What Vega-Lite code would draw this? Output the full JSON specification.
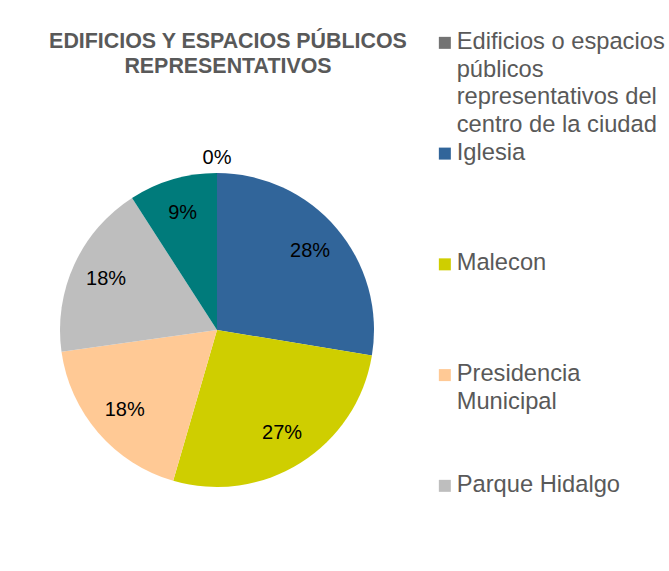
{
  "$schema": "https://vega.github.io/schema/vega-lite/v6.json",
  "width": 426,
  "height": 460,
  "autosize": {"type": "none"},
  "padding": {"left": 4, "top": 100, "right": 239, "bottom": 11},
  "background": "white",
  "title": {
    "text": ["EDIFICIOS Y ESPACIOS PÚBLICOS", "REPRESENTATIVOS"],
    "anchor": "middle",
    "dx": 11,
    "offset": -46,
    "fontSize": 21.4,
    "lineHeight": 25,
    "fontWeight": "bold",
    "color": "#595959",
    "font": "Liberation Sans"
  },
  "data": {
    "values": [
      {"lugar": "Edificios o espacios públicos representativos del centro de la ciudad", "pct": 0.0, "orden": 1},
      {"lugar": "Iglesia", "pct": 0.276, "orden": 2},
      {"lugar": "Malecon", "pct": 0.269, "orden": 3},
      {"lugar": "Presidencia Municipal", "pct": 0.183, "orden": 4},
      {"lugar": "Parque Hidalgo", "pct": 0.181, "orden": 5},
      {"lugar": "Otros", "pct": 0.091, "orden": 6}
    ]
  },
  "encoding": {
    "theta": {"field": "pct", "type": "quantitative", "stack": true},
    "order": {"field": "orden", "type": "quantitative"}
  },
  "layer": [
    {
      "mark": {"type": "arc", "outerRadius": 157},
      "encoding": {
        "color": {
          "field": "lugar",
          "type": "nominal",
          "scale": {
            "domain": ["Edificios o espacios públicos representativos del centro de la ciudad", "Iglesia", "Malecon", "Presidencia Municipal", "Parque Hidalgo", "Otros"],
            "range": ["#737373", "#31659A", "#CFCE00", "#FFC995", "#BEBEBE", "#007B7B"]
          },
          "legend": {
            "title": null,
            "orient": "none",
            "legendX": 429,
            "legendY": -69,
            "values": ["Edificios o espacios públicos representativos del centro de la ciudad", "Iglesia", "Malecon", "Presidencia Municipal", "Parque Hidalgo"],
            "symbolType": "square",
            "symbolSize": 144,
            "symbolStrokeWidth": 0,
            "symbolOpacity": 1,
            "labelFontSize": 23.7,
            "labelColor": "#595959",
            "labelFont": "Liberation Sans",
            "labelBaseline": "top",
            "labelOffset": 0,
            "labelLimit": 400,
            "gridAlign": "all",
            "rowPadding": 2.75,
            "padding": 0,
            "labelExpr": "datum.label == 'Iglesia' || datum.label == 'Malecon' || datum.label == 'Parque Hidalgo' ? datum.label : datum.label == 'Presidencia Municipal' ? ['Presidencia', 'Municipal'] : ['Edificios o espacios', 'públicos', 'representativos del', 'centro de la ciudad']"
          }
        }
      }
    },
    {
      "transform": [{"filter": "datum.pct > 0"}],
      "mark": {"type": "text", "radius": 122, "fontSize": 20, "font": "Liberation Sans", "color": "#000000"},
      "encoding": {
        "text": {"field": "pct", "type": "quantitative", "format": ".0%"}
      }
    },
    {
      "transform": [{"filter": "datum.pct == 0"}],
      "mark": {"type": "text", "radius": 172, "fontSize": 20, "font": "Liberation Sans", "color": "#000000"},
      "encoding": {
        "text": {"field": "pct", "type": "quantitative", "format": ".0%"}
      }
    }
  ],
  "config": {
    "view": {"stroke": null},
    "style": {"guide-label": {"dy": -13, "lineHeight": 27.7}}
  }
}
